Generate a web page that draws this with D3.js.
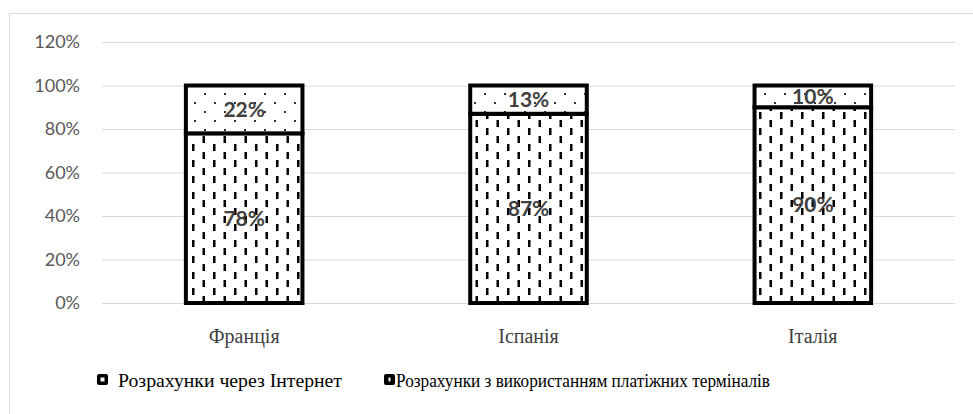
<!DOCTYPE html>
<html lang="uk">
  <head>
    <meta charset="UTF-8" />
    <title>Розрахунки</title>
    <script src="https://d3js.org/d3.v7.min.js"></script>
    <style>
      body {
        margin: 0;
        background-color: #fff;
      }
      svg {
        display: block;
      }
    </style>
  </head>
  <body>
    <div id="chart"></div>
    <script>
      const countries = ["Франція", "Іспанія", "Італія"];
      const terminals = [0.78, 0.87, 0.9];
      const internet = [0.22, 0.13, 0.1];
      const yTicks = [0, 0.2, 0.4, 0.6, 0.8, 1.0, 1.2];
      const legendLabels = [
        "Розрахунки через Інтернет",
        "Розрахунки з використанням платіжних терміналів",
      ];

      const width = 973;
      const height = 414;
      const margin = { left: 102, right: 18, top: 42, bottom: 111 };
      const serif = "'Liberation Serif', 'Times New Roman', serif";
      const sans = "Lato, 'Open Sans', sans-serif";

      const svg = d3
        .select("#chart")
        .append("svg")
        .attr("width", width)
        .attr("height", height);

      // візерунки заливки
      const defs = svg.append("defs");
      const dash = defs
        .append("pattern")
        .attr("id", "dash")
        .attr("patternUnits", "userSpaceOnUse")
        .attr("width", 21)
        .attr("height", 16);
      dash.append("rect").attr("width", 21).attr("height", 16).attr("fill", "#fff");
      dash.append("rect").attr("x", 3).attr("y", 0).attr("width", 2.5).attr("height", 7).attr("fill", "#000");
      dash.append("rect").attr("x", 13.5).attr("y", 8).attr("width", 2.5).attr("height", 7).attr("fill", "#000");

      const dots = defs
        .append("pattern")
        .attr("id", "dots")
        .attr("patternUnits", "userSpaceOnUse")
        .attr("width", 20)
        .attr("height", 18);
      dots.append("rect").attr("width", 20).attr("height", 18).attr("fill", "#fff");
      dots.append("rect").attr("x", 4).attr("y", 3).attr("width", 2).attr("height", 2).attr("fill", "#333");
      dots.append("rect").attr("x", 14).attr("y", 12).attr("width", 2).attr("height", 2).attr("fill", "#333");

      // рамка
      svg
        .append("rect")
        .attr("x", 9.5)
        .attr("y", 13.5)
        .attr("width", 1000)
        .attr("height", 500)
        .attr("fill", "none")
        .attr("stroke", "#d9d9d9");

      const x = d3
        .scaleBand()
        .domain(countries)
        .range([margin.left, width - margin.right])
        .paddingInner(0.59)
        .paddingOuter(0.295);

      const y = d3
        .scaleLinear()
        .domain([0, 1.2])
        .range([height - margin.bottom, margin.top]);

      const yAxis = svg
        .append("g")
        .attr("transform", `translate(${margin.left},0)`)
        .call(
          d3
            .axisLeft(y)
            .tickValues(yTicks)
            .tickSize(-(width - margin.left - margin.right))
            .tickPadding(22)
            .tickFormat(d3.format(".0%"))
        );
      yAxis.select(".domain").remove();
      yAxis.selectAll(".tick line").attr("stroke", "#d9d9d9");
      yAxis
        .selectAll(".tick text")
        .style("font-family", sans)
        .style("font-size", "18px")
        .attr("fill", "#595959");

      const xAxis = svg
        .append("g")
        .attr("transform", `translate(0,${height - margin.bottom})`)
        .call(d3.axisBottom(x).tickSize(0).tickPadding(26));
      xAxis.select(".domain").remove();
      xAxis
        .selectAll(".tick text")
        .style("font-family", serif)
        .style("font-size", "20px")
        .attr("fill", "#404040");

      const stacks = [
        { values: terminals, base: terminals.map(() => 0), fill: "url(#dash)" },
        { values: internet, base: terminals, fill: "url(#dots)" },
      ];

      stacks.forEach((s) => {
        const g = svg.append("g");
        g.selectAll("rect")
          .data(countries)
          .enter()
          .append("rect")
          .attr("x", (d) => x(d))
          .attr("width", x.bandwidth())
          .attr("y", (d, i) => y(s.base[i] + s.values[i]))
          .attr("height", (d, i) => y(s.base[i]) - y(s.base[i] + s.values[i]))
          .attr("fill", s.fill)
          .attr("stroke", "#000")
          .attr("stroke-width", 4);
        g.selectAll("text")
          .data(countries)
          .enter()
          .append("text")
          .attr("x", (d) => x(d) + x.bandwidth() / 2)
          .attr("y", (d, i) => y(s.base[i] + s.values[i] / 2))
          .attr("dy", "0.35em")
          .attr("text-anchor", "middle")
          .style("font-family", sans)
          .style("font-weight", "bold")
          .style("font-size", "21px")
          .attr("fill", "#404040")
          .text((d, i) => d3.format(".0%")(s.values[i]));
      });

      // легенда
      const legendY = 380;
      const legendX = [97, 384];
      const legendW = [224, 374];
      legendLabels.forEach((label, i) => {
        svg
          .append("rect")
          .attr("x", legendX[i])
          .attr("y", legendY - 6)
          .attr("width", 11)
          .attr("height", 11)
          .attr("rx", 2)
          .attr("fill", "#000");
        svg
          .append("rect")
          .attr("x", legendX[i] + (i === 0 ? 3.5 : 4.5))
          .attr("y", legendY - 2.5)
          .attr("width", i === 0 ? 4 : 2)
          .attr("height", 4)
          .attr("fill", "#fff");
        svg
          .append("text")
          .attr("x", legendX[i] + (i === 0 ? 21 : 12))
          .attr("y", legendY)
          .attr("dy", "0.35em")
          .attr("textLength", legendW[i])
          .attr("lengthAdjust", "spacingAndGlyphs")
          .style("font-family", serif)
          .style("font-size", "19px")
          .attr("fill", "#000")
          .text(label);
      });
    </script>
  </body>
</html>
